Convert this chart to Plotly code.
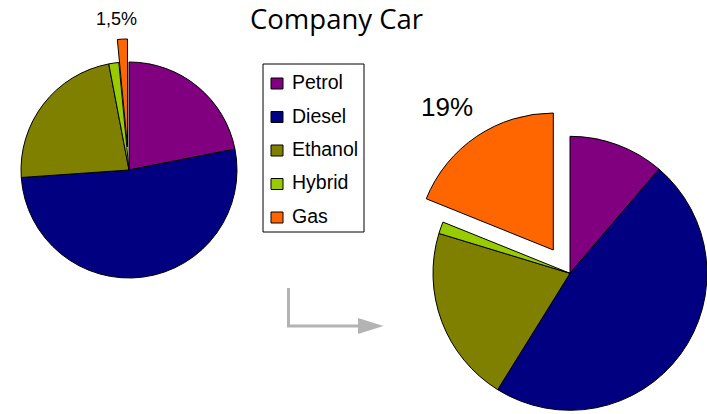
import plotly.graph_objects as go

W, H = 707, 414

# ---- data ----
labels = ["Petrol", "Diesel", "Ethanol", "Hybrid", "Gas"]
colors = ["#800080", "#000080", "#808000", "#99cc00", "#ff6600"]
left_values = [21.9, 52.0, 23.1, 1.5, 1.5]
right_values = [11.25, 47.6, 20.85, 1.4, 18.9]
gas_labels = ["1,5%", "19%"]
title_text = "Company Car"


def px_x(x):
    return x / W


def px_y(y):
    return 1 - y / H


def dom(cx, cy, r):
    return dict(x=[max(0, (cx - r) / W), min(1, (cx + r) / W)],
                y=[max(0, 1 - (cy + r) / H), min(1, 1 - (cy - r) / H)])


def pie(values, domain, exploded):
    n = len(values)
    if exploded:
        cols = ["rgba(0,0,0,0)"] * (n - 1) + [colors[-1]]
        widths = [0] * (n - 1) + [1]
    else:
        cols = colors[:-1] + ["rgba(0,0,0,0)"]
        widths = [1] * (n - 1) + [0]
    return go.Pie(labels=labels, values=values, sort=False, direction="clockwise",
                  rotation=0, domain=domain,
                  marker=dict(colors=cols, line=dict(color="black", width=widths)),
                  textinfo="none", hoverinfo="skip", showlegend=False)


fig = go.Figure()
# left pie (gas exploded upward)
fig.add_trace(pie(left_values, dom(129, 170, 108), False))
fig.add_trace(pie(left_values, dom(127.5, 147, 108), True))
# right pie (gas exploded to upper left)
fig.add_trace(pie(right_values, dom(570, 273.3, 137), False))
fig.add_trace(pie(right_values, dom(553.3, 250, 137), True))

shapes = []
annotations = []

# title
annotations.append(dict(text=title_text, x=px_x(336.5), y=px_y(18.3), xref="paper", yref="paper",
                        xanchor="center", yanchor="middle", showarrow=False, borderpad=0,
                        font=dict(family="Open Sans", size=27.5, color="black")))

# gas percentage labels
annotations.append(dict(text=gas_labels[0], x=px_x(116), y=px_y(18.7), xref="paper", yref="paper",
                        xanchor="center", yanchor="middle", showarrow=False,
                        font=dict(family="Liberation Sans", size=18, color="black")))
annotations.append(dict(text=gas_labels[1], x=px_x(446.7), y=px_y(107), xref="paper", yref="paper",
                        xanchor="center", yanchor="middle", showarrow=False,
                        font=dict(family="Liberation Sans", size=26, color="black")))

# legend box
shapes.append(dict(type="rect", xref="paper", yref="paper",
                   x0=px_x(263), x1=px_x(364), y0=px_y(232), y1=px_y(64),
                   line=dict(color="black", width=1), fillcolor="white", layer="below"))
item_y = [83.5, 117, 150.5, 184, 217.5]
for lab, col, yc in zip(labels, colors, item_y):
    shapes.append(dict(type="rect", xref="paper", yref="paper",
                       x0=px_x(271), x1=px_x(283), y0=px_y(yc + 5.5), y1=px_y(yc - 5.5),
                       line=dict(color="black", width=1), fillcolor=col))
    annotations.append(dict(text=lab, x=px_x(290), y=px_y(yc - 1.5), xref="paper", yref="paper",
                            xanchor="left", yanchor="middle", showarrow=False,
                            font=dict(family="Liberation Sans", size=19.5, color="black")))

# grey arrow
shapes.append(dict(type="path", xref="paper", yref="paper",
                   path=f"M {px_x(288.5)},{px_y(288)} L {px_x(288.5)},{px_y(326)} L {px_x(359)},{px_y(326)}",
                   line=dict(color="#b3b3b3", width=3)))
shapes.append(dict(type="path", xref="paper", yref="paper",
                   path=f"M {px_x(358)},{px_y(318)} L {px_x(383.5)},{px_y(326)} L {px_x(358)},{px_y(334)} Z",
                   line=dict(color="#b3b3b3", width=0), fillcolor="#b3b3b3"))

fig.update_layout(width=W, height=H, margin=dict(l=0, r=0, t=0, b=0),
                  paper_bgcolor="white", plot_bgcolor="white",
                  shapes=shapes, annotations=annotations, showlegend=False)

fig.write_html("out.html", config={"displayModeBar": False},
               post_script="document.body.style.margin='0';")
